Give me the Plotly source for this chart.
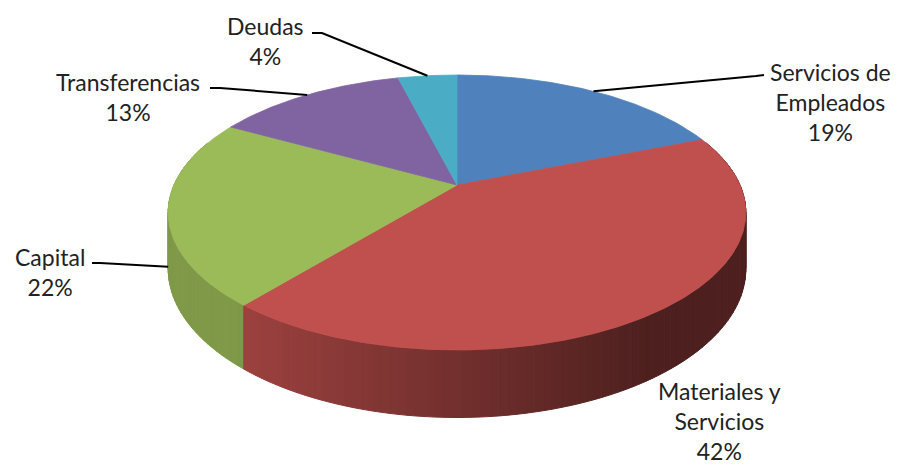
import numpy as np
import plotly.graph_objects as go

# ---------------- data ----------------
categories = ["Servicios de Empleados", "Materiales y Servicios", "Capital",
              "Transferencias", "Deudas"]
label_lines = ["Servicios de<br>Empleados", "Materiales y<br>Servicios", "Capital",
               "Transferencias", "Deudas"]
values = [19, 42, 22, 13, 4]
colors = ["#4F81BD", "#C0504D", "#9BBB59", "#8064A2", "#4BACC6"]

# ---------------- layout / geometry (page pixel space) ----------------
W, HGT = 899, 466
OFF = 8                # default body margin of the html page
CX, CY = 457, 185      # pie centre
A, B = 283, 132        # horizontal / vertical radius
P = 0.2                # perspective strength
DEPTH = 54             # thickness of the pie

# label block centres and leader line (label end, knee); None -> no leader
label_pos = [(830, 102), (719, 421), (50, 272), (128, 97), (265, 41)]
leader_pts = [[(764, 75), (756, 76)], None, [(92, 263), (100, 263)],
              [(210, 88), (220, 88)], [(312, 33), (322, 33)]]
leader_level = [0, 0, 1, 0, 0]   # anchor on top rim (0) or bottom rim (1)


def proj(theta_deg, level=0.0):
    t = np.radians(theta_deg)
    u, v = np.sin(t), np.cos(t)
    w = 1 + P * v
    return CX + A * u / w, CY - B * v / w + level * DEPTH / w, w


def hex2rgb(h):
    h = h.lstrip("#")
    return tuple(int(h[i:i + 2], 16) for i in (0, 2, 4))


total = float(sum(values))
starts, ends = [], []
acc = 0.0
for v in values:
    starts.append(acc / total * 360)
    acc += v
    ends.append(acc / total * 360)

fig = go.Figure()

# ---------- side wall (painter's order) ----------
quads = []
step = 1.5
for i, c in enumerate(colors):
    base = hex2rgb(c)
    a0, a1 = starts[i], ends[i]
    n = max(1, int(np.ceil((a1 - a0) / step)))
    angs = np.linspace(a0, a1, n + 1)
    for k in range(n):
        t1, t2 = angs[k], angs[k + 1]
        if np.cos(np.radians((t1 + t2) / 2)) > 0.35:
            continue
        x1, y1, w1 = proj(t1, 0)
        x2, y2, w2 = proj(t2, 0)
        x3, y3, _ = proj(t2, 1)
        x4, y4, _ = proj(t1, 1)
        xm = (x1 + x2) / 2
        f = 0.82 - 0.42 * min(1.0, max(0.0, (xm - 235) / (650 - 235)))
        col = "rgb(%d,%d,%d)" % tuple(int(round(ch * f)) for ch in base)
        quads.append(((w1 + w2) / 2, [x1, x2, x3, x4, x1], [y1, y2, y3, y4, y1], col))

quads.sort(key=lambda q: -q[0])
for _, xs, ys, col in quads:
    fig.add_trace(go.Scatter(x=xs, y=ys, mode="lines", fill="toself",
                             fillcolor=col, line=dict(color=col, width=1),
                             hoverinfo="skip", showlegend=False))

# ---------- top faces ----------
for i, c in enumerate(colors):
    angs = np.linspace(starts[i], ends[i], max(3, int((ends[i] - starts[i]) / 0.5)))
    xs, ys = [CX], [CY]
    for t in angs:
        x, y, _ = proj(t, 0)
        xs.append(x)
        ys.append(y)
    xs.append(CX)
    ys.append(CY)
    fig.add_trace(go.Scatter(x=xs, y=ys, mode="lines", fill="toself",
                             fillcolor=c, line=dict(color=c, width=0.8),
                             name=categories[i], hoverinfo="name", showlegend=False))

# ---------- leader lines & labels ----------
for i in range(len(values)):
    pct = "%d%%" % round(values[i] / total * 100)
    lx, ly = label_pos[i]
    fig.add_annotation(x=lx, y=ly, xref="x", yref="y", text=label_lines[i] + "<br>" + pct,
                       showarrow=False, xanchor="center", yanchor="middle", align="center",
                       font=dict(family="Lato, Noto Sans, sans-serif", size=23, color="#222222"))
    if leader_pts[i] is not None:
        mid = (starts[i] + ends[i]) / 2
        ax, ay, _ = proj(mid, leader_level[i])
        (ex, ey), (kx, ky) = leader_pts[i]
        fig.add_trace(go.Scatter(x=[ex, kx, ax], y=[ey, ky, ay], mode="lines",
                                 line=dict(color="#000000", width=2),
                                 hoverinfo="skip", showlegend=False))

fig.update_layout(
    width=W - OFF, height=HGT - OFF, margin=dict(l=0, r=0, t=0, b=0),
    paper_bgcolor="white", plot_bgcolor="white", showlegend=False,
    xaxis=dict(range=[OFF, W], visible=False, fixedrange=True),
    yaxis=dict(range=[HGT, OFF], visible=False, fixedrange=True),
)

fig.write_html("out.html")
